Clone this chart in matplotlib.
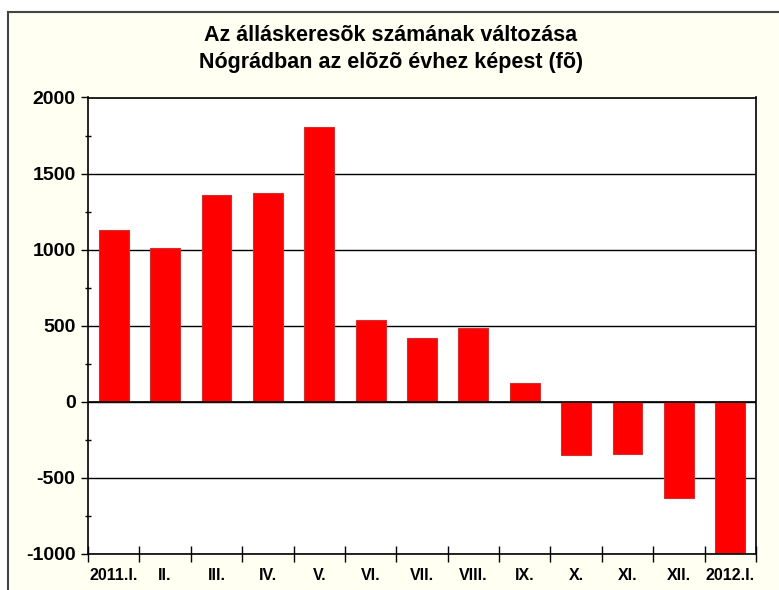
import matplotlib
matplotlib.use('Agg')
import numpy as np
import matplotlib.pyplot as plt
from matplotlib.patches import Rectangle
from matplotlib.ticker import MultipleLocator, FixedLocator, NullFormatter

# data
periods = ['2011.I.', 'II.', 'III.', 'IV.', 'V.', 'VI.', 'VII.', 'VIII.',
           'IX.', 'X.', 'XI.', 'XII.', '2012.I.']
change = [1128, 1008, 1359, 1372, 1807, 537, 418, 485, 123, -349, -340, -632, -1010]

title = 'Az álláskeresõk számának változása\nNógrádban az elõzõ évhez képest (fõ)'

plt.rcParams['font.family'] = ['Liberation Sans', 'DejaVu Sans']
plt.rcParams['axes.unicode_minus'] = False

fig = plt.figure(figsize=(7.79, 5.90), dpi=100, facecolor='white')

# cream chart area with a grey frame, running off the right and bottom edge
W, H = 779.0, 590.0
fig.patches.append(Rectangle((8 / W, -0.05), 1.0, 1 - 12 / H + 0.05,
                             transform=fig.transFigure, facecolor='#fffff2',
                             edgecolor='#444444', linewidth=1.5, zorder=-5))

ax = fig.add_axes([88 / W, 1 - 554 / H, (756 - 88) / W, (554 - 97.5) / H])
ax.set_facecolor('white')

x = np.arange(len(periods))
ax.bar(x, change, width=0.58, color='#ff0000', edgecolor='#d03030',
       linewidth=0.8, zorder=2)

ax.set_xlim(-0.5, len(periods) - 0.5)
ax.set_ylim(-1000, 2000)

ax.yaxis.set_major_locator(MultipleLocator(500))
ax.yaxis.set_minor_locator(MultipleLocator(250))
ax.grid(axis='y', which='major', color='black', linewidth=1, zorder=1)
ax.axhline(0, color='black', linewidth=1.2, zorder=3)

ax.xaxis.set_major_locator(FixedLocator(np.arange(len(periods) + 1) - 0.5))
ax.xaxis.set_major_formatter(NullFormatter())
ax.xaxis.set_minor_locator(FixedLocator(x))
ax.set_xticklabels(periods, minor=True, fontsize=11.5, fontweight='bold')
ax.tick_params(axis='x', which='minor', length=0, pad=10)
ax.tick_params(axis='x', which='major', direction='inout', length=11, width=1)
ax.tick_params(axis='y', which='major', direction='out', length=5, width=1,
               labelsize=14, pad=4)
ax.tick_params(axis='y', which='minor', direction='inout', length=4, width=1)
for lbl in ax.get_yticklabels():
    lbl.set_fontweight('bold')

for side in ['left', 'right', 'bottom', 'top']:
    ax.spines[side].set_color('black')
    ax.spines[side].set_linewidth(1.2)

fig.text(391 / W, 1 - 49 / H, title, ha='center', va='center', fontsize=15.5,
         fontweight='bold', linespacing=1.35)

fig.savefig('out.png', dpi=100)
